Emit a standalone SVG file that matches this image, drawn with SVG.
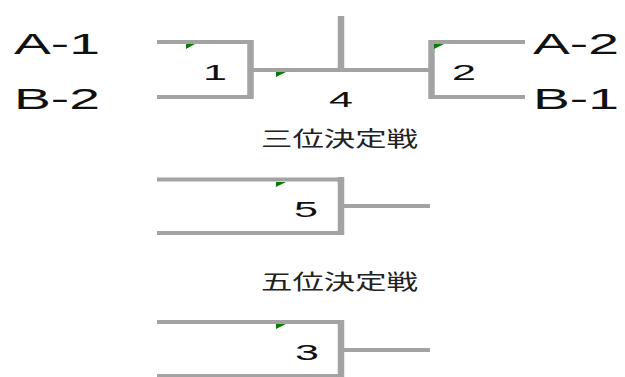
<svg xmlns="http://www.w3.org/2000/svg" width="625" height="377" viewBox="0 0 625 377">
<style>
.ln{stroke:#a3a3a3;stroke-width:4;fill:none;stroke-linecap:butt}
.vl{stroke:#a3a3a3;stroke-width:6.5;fill:none}
.mk{fill:#0a7a0a}
.tm{font-family:"Liberation Sans",Arial,sans-serif;font-size:29px;fill:#111}
.num{font-family:"Liberation Sans",Arial,sans-serif;font-size:22px;fill:#111}
.jp{font-family:"Liberation Sans","Noto Sans CJK JP",sans-serif;font-size:21px;fill:#222}
</style>
<rect width="625" height="377" fill="#fff"/>
<g id="team-A1"><text class="tm" x="14" y="54" textLength="86" lengthAdjust="spacingAndGlyphs">A-1</text></g>
<g id="team-B2"><text class="tm" x="14" y="109" textLength="86" lengthAdjust="spacingAndGlyphs">B-2</text></g>
<g id="team-A2"><text class="tm" x="533" y="54" textLength="86" lengthAdjust="spacingAndGlyphs">A-2</text></g>
<g id="team-B1"><text class="tm" x="533" y="109" textLength="86" lengthAdjust="spacingAndGlyphs">B-1</text></g>
<g id="match-1">
<path class="ln" d="M157 42H251M157 97H251"/>
<path class="vl" d="M250.5 40V99"/>
<polygon class="mk" points="186,44 195,44 186,49"/>
<text class="num" x="203" y="80" textLength="24" lengthAdjust="spacingAndGlyphs">1</text>
</g>
<g id="match-2">
<path class="ln" d="M431 42H525M431 97H525"/>
<path class="vl" d="M431.5 40V99"/>
<polygon class="mk" points="434,44 444,44 434,49"/>
<text class="num" x="452" y="80" textLength="24" lengthAdjust="spacingAndGlyphs">2</text>
</g>
<g id="match-4">
<path class="vl" d="M341 16V70"/>
<polygon class="mk" points="276,72 286,72 276,77"/>
<text class="num" x="329" y="107" textLength="24" lengthAdjust="spacingAndGlyphs">4</text>
</g>
<g id="label-3rd"><text class="jp" x="261" y="146" textLength="157" lengthAdjust="spacingAndGlyphs">三位決定戦</text></g>
<g id="match-5">
<path class="ln" d="M157 179.5H341M157 233H341"/>
<path class="vl" d="M341 177V235"/>
<polygon class="mk" points="276,182 286,182 276,187"/>
<text class="num" x="294" y="217" textLength="24" lengthAdjust="spacingAndGlyphs">5</text>
</g>
<g id="label-5th"><text class="jp" x="261" y="289" textLength="157" lengthAdjust="spacingAndGlyphs">五位決定戦</text></g>
<g id="match-3">
<path class="ln" d="M157 322H341M157 376H341"/>
<path class="vl" d="M341 320V378"/>
<polygon class="mk" points="276,324 286,324 276,329"/>
<text class="num" x="295" y="360" textLength="24" lengthAdjust="spacingAndGlyphs">3</text>
</g>
<g id="connectors">
<path class="ln" d="M253 70H429"/>
<path class="ln" d="M344 206H430"/>
<path class="ln" d="M344 350H430"/>
</g>
</svg>
